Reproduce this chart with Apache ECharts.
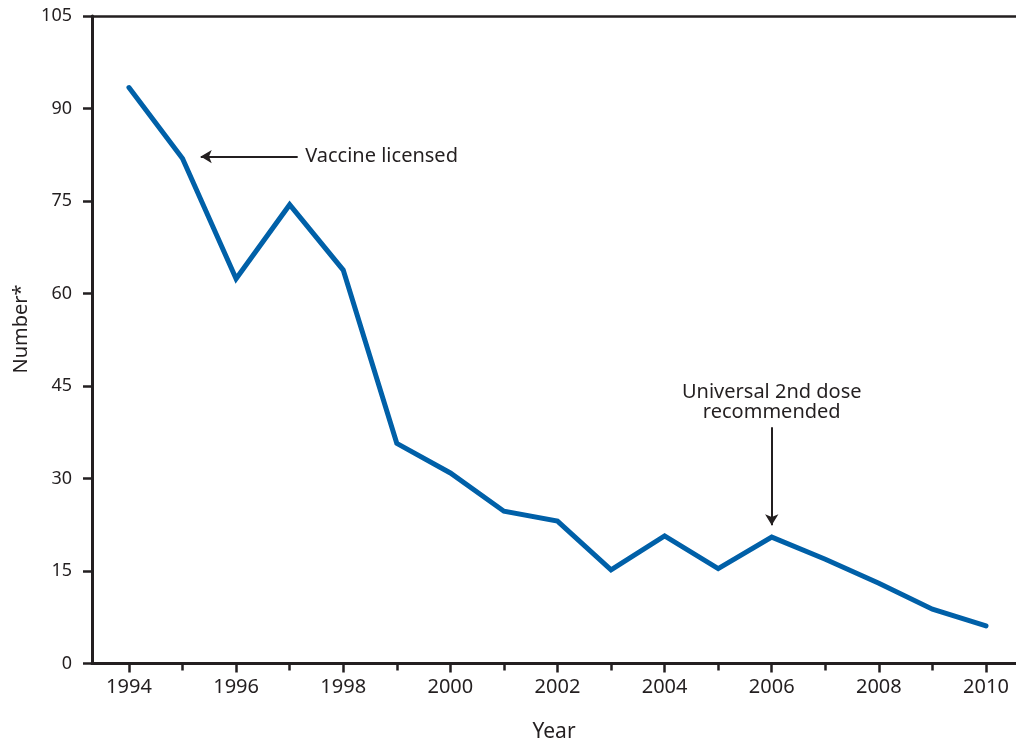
<!DOCTYPE html>
<html>
<head>
<meta charset="utf-8">
<script src="https://cdn.jsdelivr.net/npm/echarts@6/dist/echarts.min.js"></script>
<style>
  html, body { margin: 0; padding: 0; background: #fff; }
  #chart { width: 1016px; height: 746px; }
</style>
</head>
<body>
<div id="chart"></div>
<script>
// Annual number (reported cases) by year
const years = [1994, 1995, 1996, 1997, 1998, 1999, 2000, 2001, 2002,
               2003, 2004, 2005, 2006, 2007, 2008, 2009, 2010];
const counts = [93.4, 81.9, 62.4, 74.4, 63.8, 35.7, 30.9, 24.7, 23.1,
                15.2, 20.7, 15.4, 20.5, 16.9, 13.0, 8.8, 6.1];
const labelYears = [1994, 1996, 1998, 2000, 2002, 2004, 2006, 2008, 2010];
const minorYears = [1995, 1997, 1999, 2001, 2003, 2005, 2007, 2009];
const yTicks = [0, 15, 30, 45, 60, 75, 90, 105];

const ink = '#231f20';
const blue = '#0060a8';
const font = 'Noto Sans';
const xMin = 1993.31, xMax = 2010.56;

const chart = echarts.init(document.getElementById('chart'));
chart.setOption({
  animation: false,
  backgroundColor: '#fff',
  grid: { left: 92, right: 0, top: 16, bottom: 82.5, outerBoundsMode: 'none', containLabel: false },
  xAxis: [
    {
      type: 'value', position: 'bottom', min: xMin, max: xMax,
      name: 'Year', nameLocation: 'middle', nameGap: 58,
      nameTextStyle: { fontFamily: font, fontSize: 21, color: ink },
      axisLine: { show: true, onZero: false, lineStyle: { color: ink, width: 3 } },
      axisTick: { show: true, length: 9, customValues: labelYears, lineStyle: { color: ink, width: 2.5 } },
      axisLabel: { show: true, margin: 14, customValues: labelYears,
        fontFamily: font, fontSize: 20, color: ink, formatter: v => String(v) },
      splitLine: { show: false }
    },
    {
      type: 'value', position: 'bottom', min: xMin, max: xMax,
      axisLine: { show: false, onZero: false },
      axisTick: { show: true, length: 7, customValues: minorYears, lineStyle: { color: ink, width: 2.5 } },
      axisLabel: { show: false },
      splitLine: { show: false }
    },
    {
      type: 'value', position: 'top', min: xMin, max: xMax,
      axisLine: { show: true, onZero: false, lineStyle: { color: ink, width: 2.5 } },
      axisTick: { show: false },
      axisLabel: { show: false },
      splitLine: { show: false }
    }
  ],
  yAxis: {
    type: 'value', min: 0, max: 105, interval: 15,
    axisLine: { show: true, lineStyle: { color: ink, width: 3 } },
    axisTick: { show: true, length: 9, lineStyle: { color: ink, width: 2.5 } },
    axisLabel: { margin: 20, fontFamily: font, fontSize: 18, color: ink,
      formatter: v => (yTicks.includes(v) ? String(v) : '') },
    splitLine: { show: false }
  },
  graphic: [{
    type: 'text', x: 21, y: 329, rotation: Math.PI / 2,
    style: { text: 'Number*', fontFamily: font, fontSize: 20, fill: ink,
      align: 'center', verticalAlign: 'middle' }
  }],
  series: [{
    type: 'line',
    xAxisIndex: 0,
    data: years.map((y, i) => [y, counts[i]]),
    showSymbol: false,
    symbol: 'none',
    lineStyle: { color: blue, width: 5, cap: 'round', join: 'miter' },
    markLine: {
      silent: true,
      symbol: ['none', 'arrow'],
      symbolSize: [10, 11],
      label: { show: false },
      lineStyle: { color: ink, width: 2, type: 'solid' },
      data: [
        [{ coord: [1997.15, 82.2] }, { coord: [1995.34, 82.2] }],
        [{ coord: [2006, 38.3] }, { coord: [2006, 22.4] }]
      ]
    },
    markPoint: {
      silent: true,
      symbol: 'circle',
      symbolSize: 0,
      itemStyle: { color: 'transparent' },
      data: [
        { coord: [1997.29, 82.2],
          label: { show: true, position: 'right', distance: 0, formatter: 'Vaccine licensed',
            fontFamily: font, fontSize: 20, color: ink } },
        { coord: [2006, 42.4],
          label: { show: true, position: 'inside', align: 'center', verticalAlign: 'middle',
            lineHeight: 20, formatter: 'Universal 2nd dose\nrecommended',
            fontFamily: font, fontSize: 20, color: ink } }
      ]
    }
  }]
});
</script>
</body>
</html>
